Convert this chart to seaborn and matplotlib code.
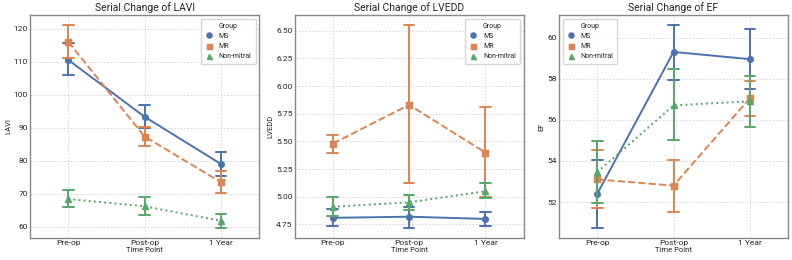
import matplotlib
matplotlib.use("Agg")
import matplotlib.pyplot as plt
import seaborn as sns
import pandas as pd
import numpy as np

time_points = ["Pre-op", "Post-op", "1 Year"]
groups = ["MS", "MR", "Non-mitral"]

# mean, lower CI, upper CI per group per time point
lavi_mean = {"MS": [110.5, 93.3, 79.0], "MR": [116.0, 87.3, 73.5], "Non-mitral": [68.4, 66.2, 61.8]}
lavi_lo = {"MS": [106.0, 89.8, 75.5], "MR": [111.0, 84.5, 70.3], "Non-mitral": [66.0, 63.7, 59.7]}
lavi_hi = {"MS": [115.5, 97.0, 82.6], "MR": [121.0, 90.2, 76.8], "Non-mitral": [71.0, 69.0, 64.0]}

lvedd_mean = {"MS": [4.81, 4.82, 4.80], "MR": [5.48, 5.83, 5.40], "Non-mitral": [4.91, 4.95, 5.05]}
lvedd_lo = {"MS": [4.74, 4.72, 4.74], "MR": [5.40, 5.12, 5.00], "Non-mitral": [4.83, 4.88, 4.99]}
lvedd_hi = {"MS": [4.89, 4.91, 4.86], "MR": [5.56, 6.55, 5.81], "Non-mitral": [5.00, 5.02, 5.12]}

ef_mean = {"MS": [52.4, 59.3, 58.95], "MR": [53.1, 52.8, 57.05], "Non-mitral": [53.45, 56.7, 56.9]}
ef_lo = {"MS": [50.75, 57.95, 57.5], "MR": [51.7, 51.5, 56.2], "Non-mitral": [51.95, 55.0, 55.65]}
ef_hi = {"MS": [54.05, 60.6, 60.4], "MR": [54.55, 54.05, 57.9], "Non-mitral": [54.95, 58.45, 58.15]}

metrics = [
    ("LAVI", lavi_mean, lavi_lo, lavi_hi, "upper right"),
    ("LVEDD", lvedd_mean, lvedd_lo, lvedd_hi, "upper right"),
    ("EF", ef_mean, ef_lo, ef_hi, "upper left"),
]


def build_frame(mean, lo, hi):
    rows = []
    for g in groups:
        for i, t in enumerate(time_points):
            for v in (lo[g][i], mean[g][i], hi[g][i]):
                rows.append({"Group": g, "Time Point": t, "value": v})
    return pd.DataFrame(rows)


sns.set_theme(style="whitegrid")
plt.rcParams["font.family"] = ["Roboto", "DejaVu Sans"]
plt.rcParams["axes.edgecolor"] = "#888888"
plt.rcParams["axes.linewidth"] = 1.0
plt.rcParams["grid.linestyle"] = (0, (2, 2))
plt.rcParams["grid.color"] = "#d0d0d0"
plt.rcParams["grid.linewidth"] = 0.6

fig, axes = plt.subplots(1, 3, figsize=(7.92, 2.6), dpi=100)
fig.subplots_adjust(left=0.038, right=0.995, bottom=0.085, top=0.942, wspace=0.155)

palette = sns.color_palette("deep", 3)
for ax, (name, mean, lo, hi, loc) in zip(axes, metrics):
    df = build_frame(mean, lo, hi)
    sns.pointplot(
        data=df, x="Time Point", y="value", hue="Group", hue_order=groups,
        order=time_points, estimator="median",
        errorbar=lambda v: (v.min(), v.max()),
        markers=["o", "s", "^"], linestyles=["-", "--", ":"],
        palette=palette, capsize=0.14, ax=ax, markersize=4,
        linewidth=1.4, err_kws={"linewidth": 1.4},
    )
    ax.set_title(f"Serial Change of {name}", fontsize=7.5, pad=3)
    ax.set_xlabel("Time Point", fontsize=5.5, labelpad=1)
    ax.set_ylabel(name, fontsize=5.5, labelpad=2)
    ax.tick_params(axis="both", labelsize=6, pad=1.5, length=0)
    ax.set_xlim(-0.5, 2.5)
    ax.grid(True, axis="both")
    ax.set_axisbelow(True)
    for s in ax.spines.values():
        s.set_visible(True)
    leg = ax.legend(title="Group", loc=loc, fontsize=5, title_fontsize=5,
                    markerscale=0.9, frameon=True, borderpad=0.6, labelspacing=0.45,
                    handlelength=1.2)
    for h in leg.legend_handles:
        h.set_linestyle("")

fig.savefig("out.png", dpi=100)
